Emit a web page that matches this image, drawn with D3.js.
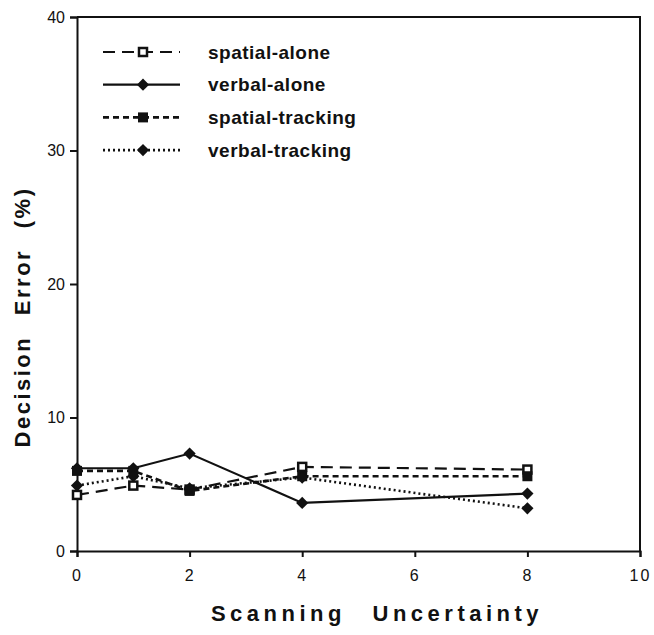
<!DOCTYPE html>
<html>
<head>
<meta charset="utf-8">
<script src="https://cdn.jsdelivr.net/npm/d3@7"></script>
<style>
  body { margin: 0; background: #fff; }
  text { font-family: "Liberation Sans", Arial, sans-serif; fill: #111; }
</style>
</head>
<body>
<div id="chart"></div>
<script>
// Data
const uncertainty = [0, 1, 2, 4, 8];
const spatialAlone = [4.2, 4.9, 4.6, 6.3, 6.1];
const verbalAlone = [6.2, 6.2, 7.3, 3.6, 4.3];
const spatialTracking = [6.0, 6.0, 4.5, 5.6, 5.6];
const verbalTracking = [4.9, 5.6, 4.7, 5.5, 3.2];
const seriesNames = ["spatial-alone", "verbal-alone", "spatial-tracking", "verbal-tracking"];
const xTicks = [0, 2, 4, 6, 8, 10];
const yTicks = [0, 10, 20, 30, 40];

const W = 654, H = 635;
const margin = { top: 17, right: 14, bottom: 84, left: 77 },
    width = W - margin.left - margin.right,
    height = H - margin.top - margin.bottom;

const svg = d3.select("#chart").append("svg")
    .attr("width", W)
    .attr("height", H);

const g = svg.append("g")
    .attr("transform", "translate(" + margin.left + "," + margin.top + ")");

const x = d3.scaleLinear().domain([0, 10]).range([0, width]);
const y = d3.scaleLinear().domain([0, 40]).range([height, 0]);

// frame: top and right borders
g.append("path")
    .attr("d", `M0,0 H${width} V${height}`)
    .attr("fill", "none")
    .attr("stroke", "#111")
    .attr("stroke-width", 2);

// x axis
const xAxis = g.append("g")
    .attr("transform", "translate(0," + height + ")")
    .call(d3.axisBottom(x).tickValues(xTicks).tickSize(6).tickPadding(13));
xAxis.select(".domain").attr("stroke-width", 2).attr("stroke", "#111");
xAxis.selectAll(".tick line").attr("stroke-width", 2).attr("stroke", "#111");
xAxis.selectAll("text").style("font-size", "16px").style("letter-spacing", "2px");

// y axis
const yAxis = g.append("g")
    .call(d3.axisLeft(y).tickValues(yTicks).tickSize(7).tickPadding(5));
yAxis.select(".domain").attr("stroke-width", 2).attr("stroke", "#111");
yAxis.selectAll(".tick line").attr("stroke-width", 2).attr("stroke", "#111");
yAxis.selectAll("text").style("font-size", "16px");

// axis titles
svg.append("text")
    .attr("x", 377)
    .attr("y", 621)
    .attr("text-anchor", "middle")
    .style("font-size", "22px")
    .style("font-weight", "bold")
    .style("letter-spacing", "4.5px")
    .style("word-spacing", "16px")
    .text("Scanning Uncertainty");

svg.append("text")
    .attr("transform", "translate(30," + 317 + ") rotate(-90)")
    .attr("text-anchor", "middle")
    .style("font-size", "22px")
    .style("font-weight", "bold")
    .style("letter-spacing", "2.5px")
    .style("word-spacing", "12px")
    .text("Decision Error (%)");

// series styles
const styles = [
    { values: spatialAlone, dash: "12,7", width: 2.2, marker: "openSquare" },
    { values: verbalAlone, dash: null, width: 2.2, marker: "diamond" },
    { values: spatialTracking, dash: "6,4", width: 2.6, marker: "square" },
    { values: verbalTracking, dash: "2,3", width: 2.6, marker: "diamond" }
];

const line = d3.line()
    .x((d, i) => x(uncertainty[i]))
    .y(d => y(d));

function drawMarker(sel, type) {
    if (type === "diamond") {
        sel.append("path")
            .attr("d", d3.symbol().type(d3.symbolDiamond2).size(95)())
            .attr("fill", "#111");
    } else if (type === "square") {
        sel.append("rect")
            .attr("x", -5).attr("y", -5).attr("width", 10).attr("height", 10)
            .attr("fill", "#111");
    } else {
        sel.append("rect")
            .attr("x", -4).attr("y", -4).attr("width", 8).attr("height", 8)
            .attr("fill", "#fff").attr("stroke", "#111").attr("stroke-width", 2.5);
    }
}

styles.forEach(s => {
    g.append("path")
        .datum(s.values)
        .attr("d", line)
        .attr("fill", "none")
        .attr("stroke", "#111")
        .attr("stroke-width", s.width)
        .attr("stroke-dasharray", s.dash);

    g.selectAll(null)
        .data(s.values)
        .enter().append("g")
        .attr("transform", (d, i) => "translate(" + x(uncertainty[i]) + "," + y(d) + ")")
        .each(function () { drawMarker(d3.select(this), s.marker); });
});

// legend
const legend = svg.append("g").attr("transform", "translate(103,52)");
seriesNames.forEach((name, i) => {
    const row = legend.append("g").attr("transform", "translate(0," + (i * 32.7) + ")");
    row.append("line")
        .attr("x1", 0).attr("x2", 77)
        .attr("stroke", "#111")
        .attr("stroke-width", styles[i].width)
        .attr("stroke-dasharray", styles[i].dash);
    const m = row.append("g").attr("transform", "translate(40,0)");
    drawMarker(m, styles[i].marker);
    row.append("text")
        .attr("x", 105)
        .attr("dy", "0.35em")
        .style("font-size", "19px")
        .style("font-weight", "bold")
        .style("letter-spacing", "0.5px")
        .text(name);
});
</script>
</body>
</html>
